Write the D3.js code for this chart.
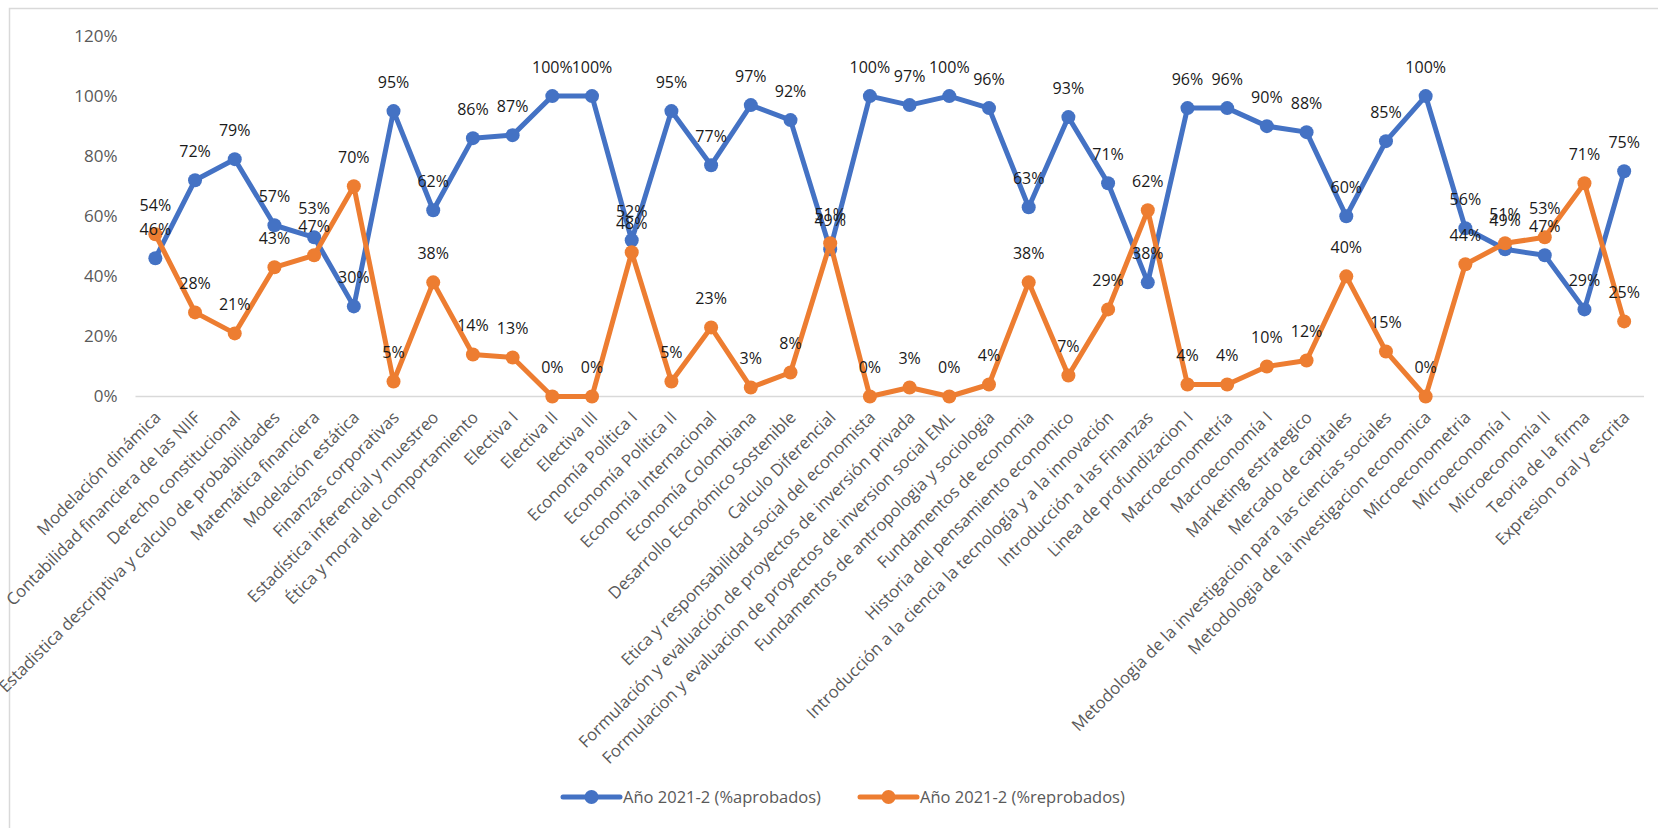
<!DOCTYPE html>
<html>
<head>
<meta charset="utf-8">
<script src="https://cdn.jsdelivr.net/npm/d3@7/dist/d3.min.js"></script>
<style>
  html, body { margin: 0; padding: 0; background: #fff; }
  svg { display: block; }
</style>
</head>
<body>
<svg id="chart" width="1658" height="828"></svg>
<script>
const categories = [
  "Modelación dinámica",
  "Contabilidad financiera de las NIIF",
  "Derecho constitucional",
  "Estadistica descriptiva y calculo de probabilidades",
  "Matemática financiera",
  "Modelación estática",
  "Finanzas corporativas",
  "Estadística inferencial y muestreo",
  "Ética y moral del comportamiento",
  "Electiva I",
  "Electiva II",
  "Electiva III",
  "Economía Política I",
  "Economía Política II",
  "Economía Internacional",
  "Economía Colombiana",
  "Desarrollo Económico Sostenible",
  "Calculo Diferencial",
  "Etica y responsabilidad social del economista",
  "Formulación y evaluación de proyectos de inversión privada",
  "Formulacion y evaluacion de proyectos de inversion social EML",
  "Fundamentos de antropologia y sociologia",
  "Fundamentos de economia",
  "Historia del pensamiento economico",
  "Introducción a la ciencia la tecnología y a la innovación",
  "Introducción  a las Finanzas",
  "Linea de profundizacion I",
  "Macroeconometría",
  "Macroeconomía I",
  "Marketing estrategico",
  "Mercado de capitales",
  "Metodologia de la investigacion para las ciencias sociales",
  "Metodologia de la investigacion economica",
  "Microeconometria",
  "Microeconomía I",
  "Microeconomía II",
  "Teoria de la firma",
  "Expresion oral y escrita"
];

const aprobados = [46, 72, 79, 57, 53, 30, 95, 62, 86, 87, 100, 100, 52, 95, 77, 97, 92, 49, 100, 97, 100, 96, 63, 93, 71, 38, 96, 96, 90, 88, 60, 85, 100, 56, 49, 47, 29, 75];
const reprobados = [54, 28, 21, 43, 47, 70, 5, 38, 14, 13, 0, 0, 48, 5, 23, 3, 8, 51, 0, 3, 0, 4, 38, 7, 29, 62, 4, 4, 10, 12, 40, 15, 0, 44, 51, 53, 71, 25];

const seriesNames = ["Año 2021-2 (%aprobados)", "Año 2021-2 (%reprobados)"];
const seriesColors = ["#4472C4", "#ED7D31"];
const yTicks = [0, 20, 40, 60, 80, 100, 120];

const svg = d3.select("#chart");
const FONT = "'Open Sans', sans-serif";

// chart border
svg.append("rect")
  .attr("x", 9.5).attr("y", 8.5)
  .attr("width", 1700).attr("height", 900)
  .attr("fill", "#fff").attr("stroke", "#d9d9d9").attr("stroke-width", 1.5);

const x = d3.scalePoint().domain(categories).range([135.5, 1644]).padding(0.5);
const y = d3.scaleLinear().domain([0, 120]).range([396.5, 36]);

// y axis
const yAxis = svg.append("g")
  .attr("transform", "translate(135.5,0)")
  .call(d3.axisLeft(y).tickValues(yTicks).tickFormat(d => d + "%").tickSize(0).tickPadding(18));
yAxis.select(".domain").remove();
yAxis.selectAll("text")
  .attr("font-family", FONT).attr("font-size", 17).attr("fill", "#595959");

// x axis baseline
svg.append("line")
  .attr("x1", 135.5).attr("x2", 1644)
  .attr("y1", y(0)).attr("y2", y(0))
  .attr("stroke", "#d9d9d9").attr("stroke-width", 1.5);

// x axis labels
const xAxis = svg.append("g")
  .attr("transform", `translate(0,${y(0)})`)
  .call(d3.axisBottom(x).tickSize(0).tickPadding(0));
xAxis.select(".domain").remove();
xAxis.selectAll("text")
  .attr("font-family", FONT).attr("font-size", 16.8).attr("fill", "#595959")
  .attr("text-anchor", "end")
  .attr("dy", null).attr("y", null)
  .attr("transform", "translate(6,22) rotate(-45)");

// lines and markers
const series = [aprobados, reprobados];
const line = d3.line().x((d, i) => x(categories[i])).y(d => y(d));

series.forEach((vals, s) => {
  const g = svg.append("g");
  g.append("path")
    .datum(vals)
    .attr("d", line)
    .attr("fill", "none")
    .attr("stroke", seriesColors[s])
    .attr("stroke-width", 5)
    .attr("stroke-linejoin", "round");
  g.selectAll("circle")
    .data(vals)
    .join("circle")
    .attr("cx", (d, i) => x(categories[i]))
    .attr("cy", d => y(d))
    .attr("r", 7)
    .attr("fill", seriesColors[s]);
});

// data labels
const fmt = d => d + "%";
series.forEach((vals, s) => {
  svg.append("g").selectAll("text")
    .data(vals)
    .join("text")
    .attr("x", (d, i) => x(categories[i]))
    .attr("y", d => y(d) - 23.5)
    .attr("text-anchor", "middle")
    .attr("font-family", FONT).attr("font-size", 16)
    .attr("fill", "#1a1a1a")
    .text(fmt);
});

// legend
const legendItems = [
  { x0: 563, x1: 620, tx: 623 },
  { x0: 860, x1: 917, tx: 920 }
];
const ly = 797;
legendItems.forEach((it, s) => {
  const g = svg.append("g");
  g.append("line")
    .attr("x1", it.x0).attr("x2", it.x1).attr("y1", ly).attr("y2", ly)
    .attr("stroke", seriesColors[s]).attr("stroke-width", 5).attr("stroke-linecap", "round");
  g.append("circle")
    .attr("cx", (it.x0 + it.x1) / 2).attr("cy", ly).attr("r", 7)
    .attr("fill", seriesColors[s]);
  g.append("text")
    .attr("x", it.tx).attr("y", ly).attr("dy", "0.35em")
    .attr("font-family", FONT).attr("font-size", 16.5).attr("fill", "#595959")
    .text(seriesNames[s]);
});
</script>
</body>
</html>
